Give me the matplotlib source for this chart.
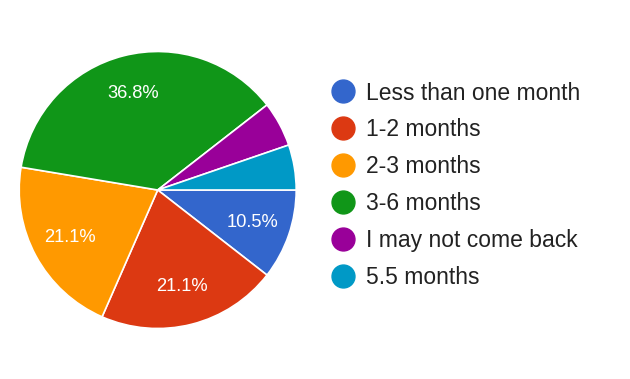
import matplotlib
matplotlib.use("Agg")
import matplotlib.pyplot as plt
from matplotlib.lines import Line2D

categories = ["Less than one month", "1-2 months", "2-3 months", "3-6 months",
              "I may not come back", "5.5 months"]
counts = [2, 4, 4, 7, 1, 1]
colors = ["#3366cc", "#dc3912", "#ff9900", "#109618", "#990099", "#0099c6"]

plt.rcParams['font.family'] = ['Liberation Sans', 'DejaVu Sans']

fig = plt.figure(figsize=(6.30, 3.79), dpi=100)
R = 138.5
cx, cy = 157.7, 379 - 190
ax = fig.add_axes([(cx - R) / 630, (cy - R) / 379, 2 * R / 630, 2 * R / 379])

def fmt(p):
    return f"{p:.1f}%" if p >= 6 else ""

wedges, texts, autotexts = ax.pie(
    counts, colors=colors, startangle=0, counterclock=False,
    autopct=fmt, pctdistance=0.72,
    wedgeprops=dict(edgecolor="white", linewidth=1.2),
    textprops=dict(color="white", fontsize=13.2))
ax.set_xlim(-1, 1)
ax.set_ylim(-1, 1)
ax.set_aspect("equal")
ax.axis("off")

handles = [Line2D([], [], marker="o", linestyle="", color=c, markersize=16.5)
           for c in colors]
fig.legend(handles, categories, loc="upper left",
           bbox_to_anchor=(332 / 630, 1 - 81.5 / 379), frameon=False,
           fontsize=16.5, handlelength=1.0, handletextpad=0.5,
           labelspacing=0.61, borderpad=0, borderaxespad=0,
           labelcolor="#222222")

fig.savefig("out.png", dpi=100)
